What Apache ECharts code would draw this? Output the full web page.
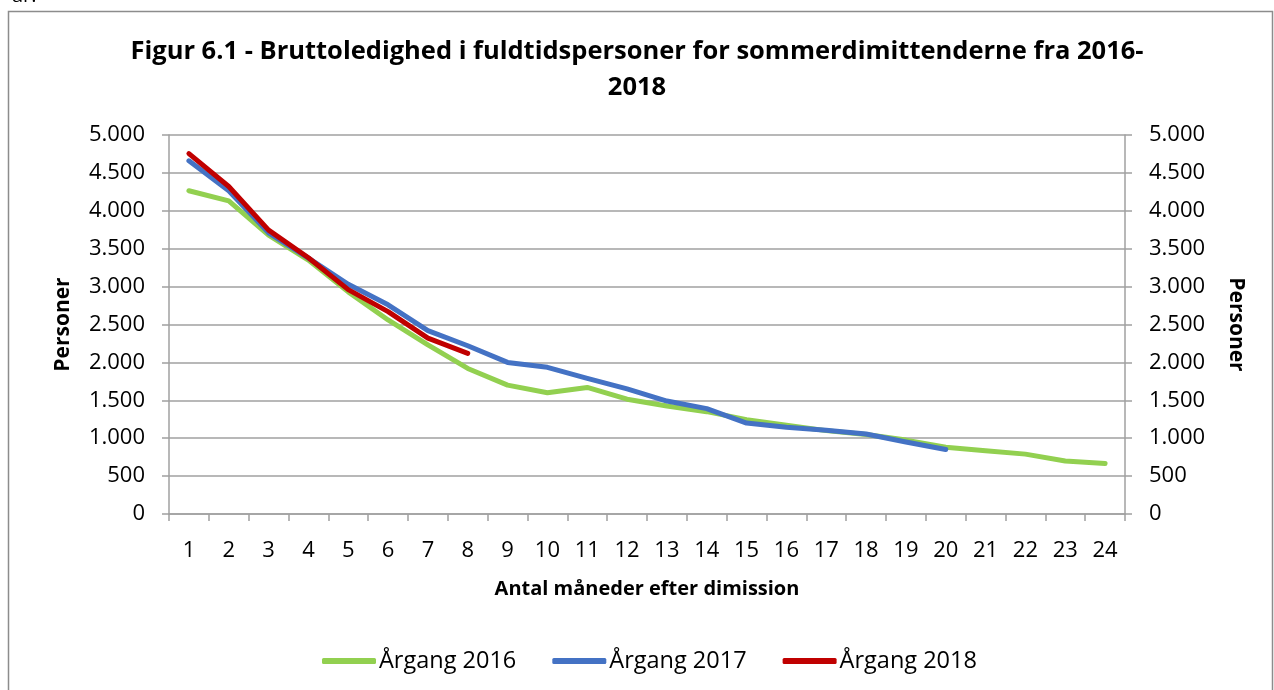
<!DOCTYPE html>
<html>
<head>
<meta charset="utf-8">
<script src="https://cdn.jsdelivr.net/npm/echarts@6/dist/echarts.min.js"></script>
<style>
html,body{margin:0;padding:0;background:#fff;}
#chart{width:1274px;height:690px;}
</style>
</head>
<body>
<div id="chart"></div>
<script>
const categories = ['1','2','3','4','5','6','7','8','9','10','11','12','13','14','15','16','17','18','19','20','21','22','23','24'];
const aargang2016 = [4265,4130,3680,3350,2930,2560,2230,1920,1700,1600,1670,1515,1425,1350,1245,1170,1100,1050,975,880,835,790,700,665];
const aargang2017 = [4660,4265,3710,3375,3030,2760,2420,2220,2000,1935,1790,1650,1490,1390,1200,1145,1105,1055,950,850];
const aargang2018 = [4755,4320,3745,3380,2960,2670,2320,2120];
const seriesNames = ['Årgang 2016','Årgang 2017','Årgang 2018'];
const titleText = 'Figur 6.1 - Bruttoledighed i fuldtidspersoner for sommerdimittenderne fra 2016-\n2018';
const xName = 'Antal måneder efter dimission';
const yName = 'Personer';

const FONT = '"Open Sans", sans-serif';
const fmt = v => v >= 1000 ? String(v).replace(/\B(?=(\d{3})+(?!\d))/g, '.') : String(v);
const gray = '#a0a0a0';

const chart = echarts.init(document.getElementById('chart'), null, {renderer:'canvas'});
const yAxisCommon = {
  type:'value', min:0, max:5000, interval:500,
  axisLine:{show:true, lineStyle:{color:gray, width:1.5}},
  axisTick:{show:true, inside:false, length:7, lineStyle:{color:gray, width:1.5}},
  axisLabel:{fontFamily:FONT, fontSize:22, color:'#000', margin:24, formatter:fmt},
  nameLocation:'middle',
  nameTextStyle:{fontFamily:FONT, fontSize:21, fontWeight:'bold', color:'#000'}
};
chart.setOption({
  animation:false,
  backgroundColor:'#fff',
  title:{
    text:titleText, left:'center', top:29,
    textStyle:{fontFamily:FONT, fontSize:25.5, fontWeight:'bold', color:'#000', lineHeight:36}
  },
  graphic:[
    {type:'rect', shape:{x:8.5, y:11.5, width:1264, height:700}, style:{fill:'none', stroke:'#8c8c8c', lineWidth:1.5}, silent:true},
    {type:'text', left:12, top:-14, style:{text:'år.', font:'20px "Open Sans", sans-serif', fill:'#000'}}
  ],
  grid:{left:169, right:149, top:135, bottom:176},
  legend:{
    data:seriesNames, bottom:12, left:317,
    icon:'roundRect', itemWidth:54, itemHeight:6, itemGap:36,
    textStyle:{fontFamily:FONT, fontSize:23.5, color:'#000', padding:[0,0,0,-2]}
  },
  xAxis:{
    type:'category', data:categories, boundaryGap:true,
    axisLine:{lineStyle:{color:gray, width:1.5}},
    axisTick:{show:true, length:7, lineStyle:{color:gray, width:1.5}},
    axisLabel:{fontFamily:FONT, fontSize:22, color:'#000', margin:26},
    name:xName, nameLocation:'middle', nameGap:65,
    nameTextStyle:{fontFamily:FONT, fontSize:20, fontWeight:'bold', color:'#000'}
  },
  yAxis:[
    Object.assign({}, yAxisCommon, {position:'left', name:yName, nameGap:95, nameRotate:90,
      splitLine:{show:true, lineStyle:{color:gray, width:1.5}}}),
    Object.assign({}, yAxisCommon, {position:'right', name:yName, nameGap:100, nameRotate:-90,
      splitLine:{show:false}})
  ],
  series:[
    {name:seriesNames[0], type:'line', data:aargang2016, symbol:'none', color:'#92D050',
     lineStyle:{width:5, cap:'round', join:'round'}},
    {name:seriesNames[1], type:'line', data:aargang2017, symbol:'none', color:'#4472C4',
     lineStyle:{width:5, cap:'round', join:'round'}},
    {name:seriesNames[2], type:'line', data:aargang2018, symbol:'none', color:'#C00000',
     lineStyle:{width:5, cap:'round', join:'round'}}
  ]
});
</script>
</body>
</html>
